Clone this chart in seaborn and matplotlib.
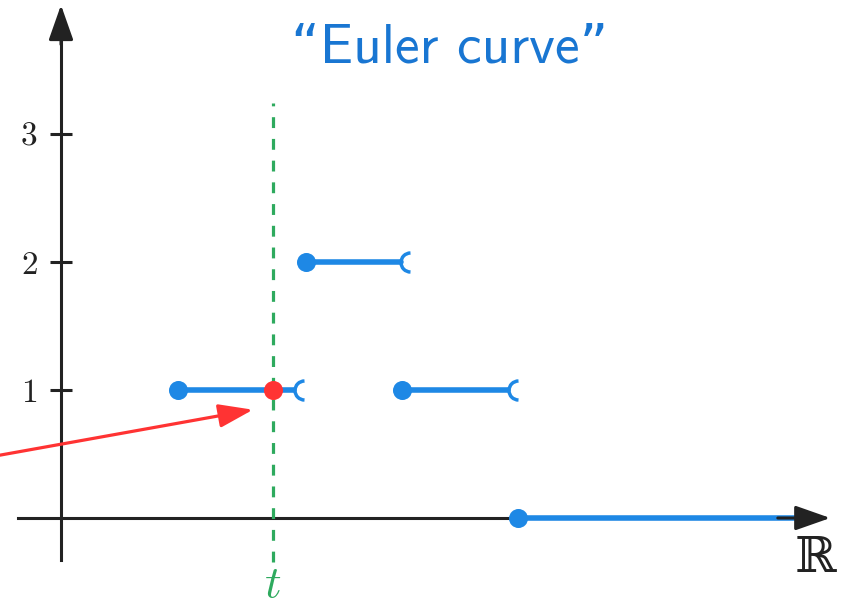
import numpy as np
import pandas as pd
import matplotlib
matplotlib.use("Agg")
import matplotlib.pyplot as plt
from matplotlib.path import Path
from matplotlib.patches import ArrowStyle
import seaborn as sns

# ---- data ----
levels = [1, 2, 1, 0]                      # Euler characteristic value of each step
births = [0.914, 1.914, 2.664, 3.570]      # closed left endpoints
deaths = [1.898, 2.727, 3.570, 5.81]       # right endpoints (last runs to the arrow)
open_end = [True, True, True, False]
t_value = 1.656
yticks = [1, 2, 3]
ytick_labels = ["1", "2", "3"]
title_text = "\u201cEuler curve\u201d"

BLUE = "#1E88E5"
TITLE_BLUE = "#1976D2"
RED = "#FF3333"
GREEN = "#2EAA5E"
AX = "#222222"

sns.set_theme(style="white")
plt.rcParams["mathtext.fontset"] = "cm"

fig = plt.figure(figsize=(8.42, 6.06), dpi=100)
ax = fig.add_axes([0, 0, 1, 1])
ax.set_xlim(-0.4766, 6.1016)
ax.set_ylim(-0.6875, 4.047)
ax.set_facecolor("white")

PX = 1 / 128.0  # one pixel in data units (both axes)

# axes lines through the origin
for s in ["top", "right"]:
    ax.spines[s].set_visible(False)
ax.spines["left"].set_position(("data", 0))
ax.spines["bottom"].set_position(("data", 0))
ax.spines["left"].set_bounds(-0.33, 3.9)
ax.spines["bottom"].set_bounds(-0.336, 5.9)
for s in ["left", "bottom"]:
    ax.spines[s].set_color(AX)
    ax.spines[s].set_linewidth(2.2)
    ax.spines[s].set_zorder(2)

arrow_style = ArrowStyle("-|>", head_length=21.6, head_width=7.6)
# x-axis arrow head
ax.annotate("", xy=(6.01, 0), xytext=(5.6, 0),
            arrowprops=dict(arrowstyle=arrow_style, mutation_scale=1, lw=2.2,
                            color=AX, shrinkA=0, shrinkB=0), zorder=6)
# y-axis arrow head
ax.annotate("", xy=(0, 4.008), xytext=(0, 3.7),
            arrowprops=dict(arrowstyle=arrow_style, mutation_scale=1, lw=2.2,
                            color=AX, shrinkA=0, shrinkB=0), zorder=6)

# step segments
r_open = 9.5 * PX
rows = []
for i, (lv, b, d, o) in enumerate(zip(levels, births, deaths, open_end)):
    end = d - r_open if o else d
    rows.append({"seg": i, "x": b, "y": lv})
    rows.append({"seg": i, "x": end, "y": lv})
seg_df = pd.DataFrame(rows)
sns.lineplot(data=seg_df, x="x", y="y", units="seg", estimator=None, sort=False,
             color=BLUE, lw=4.0, ax=ax, zorder=3, legend=False)

# closed endpoints
pts = pd.DataFrame({"x": births, "y": levels})
sns.scatterplot(data=pts, x="x", y="y", color=BLUE, s=13.7 ** 2, linewidth=0,
                ax=ax, zorder=5, legend=False)

# open endpoints: left half circle
half = Path.arc(90, 270)
ox = [d for d, o in zip(deaths, open_end) if o]
oy = [lv for lv, o in zip(levels, open_end) if o]
ax.plot(ox, oy, linestyle="none", marker=half, markersize=19 / 1.389 * 1.0,
        markerfacecolor="none", markeredgecolor=BLUE, markeredgewidth=2.5, zorder=5)

# vertical dashed line at t
ax.plot([t_value, t_value], [-0.34, 3.24], color=GREEN, lw=2.3,
        dashes=(3.4, 3.4), zorder=4)
ax.text(t_value, -0.615, r"$t$", color=GREEN, fontsize=33, ha="center", va="baseline")

# red point at (t, 1)
ax.scatter([t_value], [1], color=RED, s=13.7 ** 2, linewidth=0, zorder=6)

# red arrow coming from the left
ax.annotate("", xy=(1.50, 0.846), xytext=(-0.555, 0.477),
            arrowprops=dict(arrowstyle=ArrowStyle("-|>", head_length=21, head_width=7.2),
                            mutation_scale=1, lw=2.3, color=RED,
                            shrinkA=0, shrinkB=0), zorder=7)

# ticks and labels
ax.set_xlabel("")
ax.set_ylabel("")
ax.set_xticks([])
ax.set_yticks(yticks)
ax.set_yticklabels(ytick_labels, fontfamily="cmr10")
ax.tick_params(axis="y", direction="inout", length=15.8, width=2.2, color=AX,
               labelsize=24, labelcolor=AX, pad=9.0, left=True)
ax.grid(False)

ax.text(5.89, -0.422, "\u211d", fontsize=36, color=AX, ha="center",
        va="baseline", family=["DejaVu Serif", "DejaVu Sans"])
ax.text(3.039, 3.555, title_text, fontsize=40, color=TITLE_BLUE, ha="center",
        va="baseline", family=["cmss10", "DejaVu Sans"])

fig.savefig("out.png", dpi=100, facecolor="white")
